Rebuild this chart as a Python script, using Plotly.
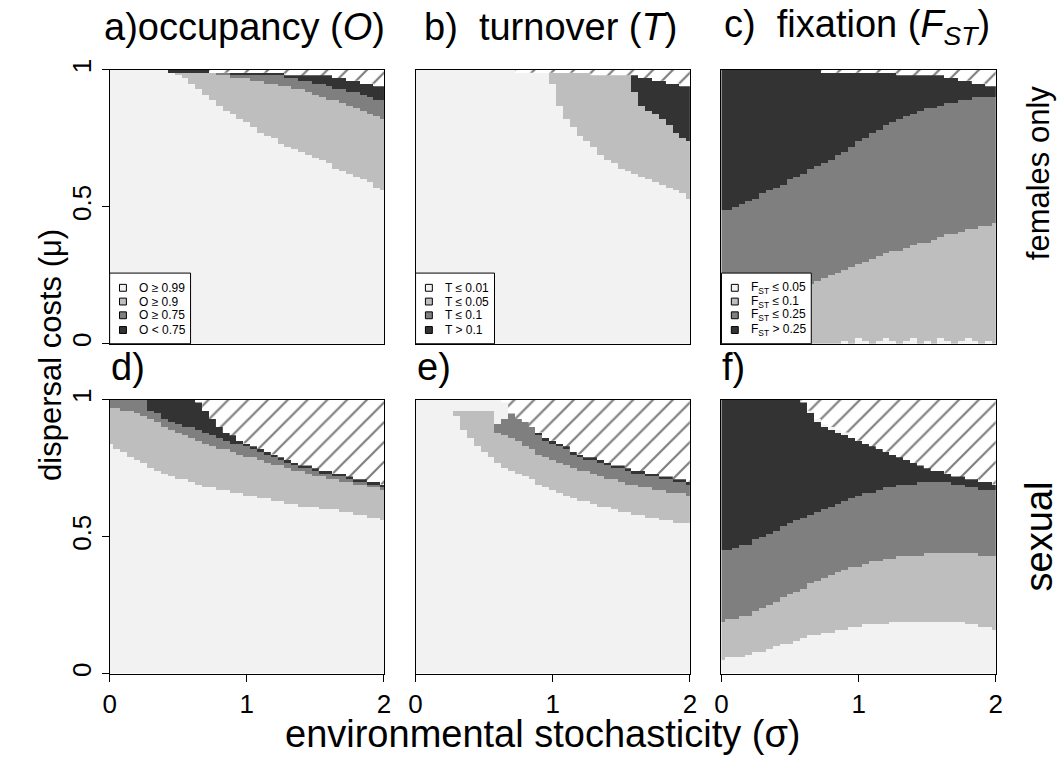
import numpy as np
import plotly.graph_objects as go

# ---------------- data ----------------
SIGMA = [0.0, 0.05, 0.1, 0.15, 0.2, 0.25, 0.3, 0.35, 0.4, 0.45, 0.5, 0.55, 0.6, 0.65, 0.7,
         0.75, 0.8, 0.85, 0.9, 0.95, 1.0, 1.05, 1.1, 1.15, 1.2, 1.25, 1.3, 1.35, 1.4, 1.45,
         1.5, 1.55, 1.6, 1.65, 1.7, 1.75, 1.8, 1.85, 1.9, 1.95, 2.0]

X_TICKS = [0, 1, 2]
X_TICK_LABELS = ["0", "1", "2"]
Y_TICKS = [0, 0.5, 1]
Y_TICK_LABELS = ["0", "0.5", "1"]

CAT_COLORS = ["#f2f2f2", "#bebebe", "#7f7f7f", "#333333"]

# extinction boundary (hatched above), females-only row
EXT_FEM = [1.0, 1.0, 1.0, 1.0, 1.0, 1.0, 1.0, 1.0, 1.0, 1.0, 1.0, 1.0, 1.0, 1.0, 1.0,
           0.99, 0.99, 0.99, 0.99, 0.99, 0.99, 0.99, 0.99, 0.99, 0.99, 0.99,
           0.98, 0.98, 0.98, 0.98, 0.98, 0.98, 0.98,
           0.97, 0.97, 0.965, 0.96, 0.955, 0.95, 0.945, 0.94]

# a) occupancy, females only
A_B1 = [1.0, 1.0, 1.0, 1.0, 1.0, 1.0, 1.0, 1.0, 1.0, 1.0,
        0.98, 0.97, 0.95, 0.93, 0.91, 0.89, 0.875, 0.855, 0.84, 0.825, 0.81, 0.79, 0.775,
        0.76, 0.75, 0.735, 0.725, 0.71, 0.70, 0.69, 0.68, 0.67, 0.657, 0.645, 0.635, 0.625,
        0.615, 0.605, 0.59, 0.575, 0.56]
A_B2 = [1.0, 1.0, 1.0, 1.0, 1.0, 1.0, 1.0, 1.0, 1.0,
        0.99, 0.99, 0.99, 0.99, 0.99, 0.99, 0.99,
        0.98, 0.98, 0.975, 0.97, 0.97, 0.965, 0.96, 0.955, 0.95, 0.945, 0.94, 0.935, 0.93,
        0.92, 0.915, 0.905, 0.895, 0.89, 0.88, 0.875, 0.865, 0.855, 0.845, 0.835, 0.825]
A_B3 = [1.0, 1.0, 1.0, 1.0, 1.0, 1.0, 1.0, 1.0, 1.0,
        0.99, 0.99, 0.99, 0.99, 0.99, 0.99, 0.99, 0.99, 0.99,
        0.98, 0.98, 0.98, 0.98, 0.98, 0.98, 0.98, 0.98,
        0.97, 0.97, 0.965, 0.96, 0.955, 0.95, 0.94, 0.935, 0.93, 0.925, 0.92, 0.91, 0.905,
        0.895, 0.89]

# b) turnover, females only
B_B1 = [1.0, 1.0, 1.0, 1.0, 1.0, 1.0, 1.0, 1.0, 1.0, 1.0, 1.0, 1.0, 1.0, 1.0,
        1.0, 1.0, 1.0, 1.0, 1.0, 1.0,
        0.95, 0.87, 0.82, 0.79, 0.765, 0.745, 0.72, 0.695, 0.675, 0.66, 0.645, 0.63, 0.62,
        0.61, 0.60, 0.59, 0.58, 0.57, 0.56, 0.55, 0.535]
B_B3 = [1.0, 1.0, 1.0, 1.0, 1.0, 1.0, 1.0, 1.0, 1.0, 1.0, 1.0, 1.0, 1.0, 1.0, 1.0, 1.0,
        1.0, 1.0, 1.0, 1.0, 1.0, 1.0, 1.0, 1.0, 1.0, 1.0, 1.0, 1.0, 1.0, 1.0, 1.0, 1.0,
        0.92, 0.87, 0.85, 0.84, 0.82, 0.80, 0.775, 0.755, 0.74]

# c) fixation, females only
C_B1 = [0.0, 0.0, 0.0, 0.0, 0.0, 0.0, 0.0, 0.0, 0.0, 0.0, 0.0, 0.0, 0.0, 0.0, 0.0, 0.0,
        0.0, 0.0,
        0.01, 0.0, 0.02, 0.01, 0.0, 0.01, 0.02, 0.01, 0.0, 0.01, 0.02, 0.0, 0.01, 0.0,
        0.02, 0.01, 0.0, 0.01, 0.02, 0.01, 0.0, 0.01, 0.0]
C_B2 = [0.13, 0.135, 0.14, 0.145, 0.15, 0.157, 0.165, 0.172, 0.18, 0.187, 0.195, 0.202,
        0.21, 0.22, 0.23, 0.24, 0.25, 0.26, 0.27, 0.28, 0.29, 0.30, 0.31, 0.32, 0.33, 0.337,
        0.345, 0.352, 0.36, 0.367, 0.375, 0.382, 0.39, 0.397, 0.405, 0.412, 0.42, 0.425,
        0.43, 0.435, 0.44]
C_B3 = [0.49, 0.495, 0.505, 0.515, 0.525, 0.535, 0.55, 0.56, 0.575, 0.585, 0.60, 0.61,
        0.625, 0.64, 0.65, 0.66, 0.675, 0.69, 0.705, 0.72, 0.74, 0.755, 0.775, 0.785, 0.80,
        0.81, 0.825, 0.835, 0.845, 0.855, 0.86, 0.865, 0.87, 0.88, 0.885, 0.89, 0.895, 0.90,
        0.90, 0.90, 0.90]

# d) occupancy, sexual
D_EXT = [1.0, 1.0, 1.0, 1.0, 1.0, 1.0, 1.0, 1.0, 1.0, 1.0, 1.0, 1.0, 1.0,
         0.99, 0.96, 0.93, 0.905, 0.885, 0.87, 0.855, 0.845, 0.835, 0.82, 0.81, 0.80, 0.79,
         0.78, 0.772, 0.765, 0.757, 0.75, 0.745, 0.74, 0.733, 0.727, 0.72, 0.715, 0.71,
         0.705, 0.70, 0.69]
D_B1 = [0.84, 0.825, 0.81, 0.795, 0.78, 0.767, 0.755, 0.745, 0.735, 0.725, 0.715, 0.707,
        0.70, 0.692, 0.685, 0.68, 0.675, 0.67, 0.665, 0.66, 0.655, 0.65, 0.645, 0.64, 0.635,
        0.63, 0.625, 0.62, 0.615, 0.612, 0.61, 0.605, 0.60, 0.597, 0.595, 0.59, 0.585, 0.58,
        0.575, 0.567, 0.56]
D_B2 = [0.97, 0.968, 0.965, 0.96, 0.95, 0.943, 0.935, 0.92, 0.905, 0.892, 0.88, 0.872,
        0.865, 0.855, 0.845, 0.835, 0.825, 0.817, 0.81, 0.802, 0.795, 0.787, 0.78, 0.772,
        0.765, 0.757, 0.75, 0.745, 0.74, 0.732, 0.725, 0.72, 0.715, 0.71, 0.705, 0.70, 0.695,
        0.69, 0.685, 0.68, 0.675]
D_B3 = [1.0, 1.0, 1.0, 1.0, 1.0, 1.0,
        0.96, 0.95, 0.935, 0.925, 0.915, 0.905, 0.90, 0.895, 0.885, 0.875, 0.865, 0.855,
        0.845, 0.84, 0.835,
        0.825, 0.81, 0.80, 0.79, 0.78, 0.77, 0.762, 0.755, 0.747, 0.74, 0.735, 0.73, 0.723,
        0.717, 0.71, 0.705, 0.70, 0.695, 0.69, 0.68]

# e) turnover, sexual
E_EXT = [1.0, 1.0, 1.0, 1.0, 1.0, 1.0, 1.0, 1.0, 1.0, 1.0, 1.0, 1.0, 1.0,
         0.99, 0.955, 0.935, 0.92, 0.905, 0.885, 0.865, 0.855, 0.845, 0.83, 0.815, 0.805,
         0.795, 0.787, 0.78, 0.772, 0.765, 0.757, 0.75, 0.742, 0.737, 0.732, 0.727, 0.722,
         0.717, 0.712, 0.706, 0.70]
E_TOP = [1.0, 1.0, 1.0, 1.0, 1.0, 1.0,
         0.965, 0.965, 0.965, 0.965, 0.965, 0.965, 0.91, 0.93,
         1.0, 1.0, 1.0, 1.0, 1.0, 1.0, 1.0, 1.0, 1.0, 1.0, 1.0, 1.0, 1.0, 1.0, 1.0, 1.0,
         1.0, 1.0, 1.0, 1.0, 1.0, 1.0, 1.0, 1.0, 1.0, 1.0, 1.0]
E_B1 = [1.0, 1.0, 1.0, 1.0, 1.0, 1.0,
        0.94, 0.89, 0.86, 0.835, 0.815, 0.795, 0.775, 0.755, 0.745, 0.735, 0.72, 0.71, 0.695,
        0.685, 0.675, 0.665, 0.655, 0.645, 0.635, 0.627, 0.62, 0.613, 0.607, 0.60, 0.595,
        0.59, 0.585, 0.58, 0.575, 0.57, 0.565, 0.56, 0.555, 0.552, 0.55]
E_B2 = [1.0, 1.0, 1.0, 1.0, 1.0, 1.0, 1.0, 1.0, 1.0, 1.0, 1.0, 1.0,
        0.885, 0.875,
        0.865, 0.85, 0.835, 0.82, 0.805, 0.79, 0.78, 0.77, 0.765, 0.755, 0.745, 0.737, 0.73,
        0.722, 0.715, 0.707, 0.70, 0.695, 0.69, 0.685, 0.68, 0.675, 0.67, 0.665, 0.66,
        0.657, 0.655]
E_B3 = [1.0, 1.0, 1.0, 1.0, 1.0, 1.0, 1.0, 1.0, 1.0, 1.0, 1.0, 1.0, 1.0, 1.0, 1.0, 1.0,
        1.0, 1.0,
        0.875, 0.855, 0.845, 0.835, 0.82, 0.805, 0.795, 0.785, 0.777, 0.77, 0.762, 0.755,
        0.747, 0.74, 0.732, 0.727, 0.722, 0.717, 0.712, 0.707, 0.702, 0.696, 0.69]

# f) fixation, sexual
F_EXT = [1.0, 1.0, 1.0, 1.0, 1.0, 1.0, 1.0, 1.0, 1.0, 1.0, 1.0, 1.0,
         0.99, 0.965, 0.935, 0.915, 0.90, 0.89, 0.88, 0.865, 0.85, 0.84, 0.83, 0.82, 0.81,
         0.80, 0.79, 0.78, 0.772, 0.762, 0.753, 0.745, 0.737, 0.73, 0.725, 0.72, 0.715,
         0.71, 0.705, 0.70, 0.69]
F_TOP = [1.0, 1.0, 1.0, 1.0, 1.0, 1.0, 1.0, 1.0, 1.0, 1.0, 1.0, 1.0, 1.0,
         0.955, 0.925, 0.905, 0.89, 0.88, 0.87,
         1.0, 1.0, 1.0, 1.0, 1.0, 1.0, 1.0, 1.0, 1.0, 1.0, 1.0, 1.0, 1.0, 1.0, 1.0, 1.0,
         1.0, 1.0, 1.0, 1.0, 1.0, 1.0]
F_B1 = [0.055, 0.057, 0.06, 0.065, 0.07, 0.077, 0.085, 0.092, 0.10, 0.107, 0.115, 0.122,
        0.13, 0.137, 0.145, 0.15, 0.155, 0.16, 0.165, 0.17, 0.175, 0.177, 0.18, 0.182, 0.185,
        0.187, 0.19, 0.19, 0.19, 0.19, 0.19, 0.19, 0.19, 0.19, 0.19, 0.187, 0.185, 0.18,
        0.175, 0.167, 0.16]
F_B2 = [0.195, 0.197, 0.20, 0.207, 0.215, 0.227, 0.24, 0.252, 0.265, 0.277, 0.29, 0.302,
        0.315, 0.327, 0.34, 0.35, 0.36, 0.37, 0.38, 0.387, 0.395, 0.402, 0.41, 0.415, 0.42,
        0.424, 0.428, 0.43, 0.433, 0.435, 0.437, 0.438, 0.44, 0.44, 0.44, 0.44, 0.44, 0.437,
        0.435, 0.432, 0.43]
F_B3 = [0.45, 0.455, 0.46, 0.467, 0.475, 0.487, 0.50, 0.512, 0.525, 0.537, 0.55, 0.56,
        0.57, 0.58, 0.59, 0.60, 0.61, 0.62, 0.63, 0.64, 0.65, 0.657, 0.665, 0.672, 0.68,
        0.685, 0.69, 0.692, 0.695, 0.697, 0.70, 0.70, 0.70, 0.697, 0.695, 0.69, 0.685, 0.68,
        0.675, 0.672, 0.67]

NONE = [1.0] * len(SIGMA)   # "category absent" marker (clamped below)

TITLES = ["a)occupancy (<i>O</i>)", "b)  turnover (<i>T</i>)",
          "c)  fixation (<i>F<sub>ST</sub></i>)"]
ROW_LETTERS = ["d)", "e)", "f)"]
LEGEND_LABELS = [
    ["O \u2265 0.99", "O \u2265 0.9", "O \u2265 0.75", "O < 0.75"],
    ["T \u2264 0.01", "T \u2264 0.05", "T \u2264 0.1", "T > 0.1"],
    ["F<sub>ST</sub> \u2264 0.05", "F<sub>ST</sub> \u2264 0.1",
     "F<sub>ST</sub> \u2264 0.25", "F<sub>ST</sub> > 0.25"],
]

PANELS = [
    dict(b1=A_B1, b2=A_B2, b3=A_B3, top=NONE, ext=EXT_FEM),
    dict(b1=B_B1, b2=NONE, b3=B_B3, top=NONE, ext=EXT_FEM),
    dict(b1=C_B1, b2=C_B2, b3=C_B3, top=NONE, ext=EXT_FEM),
    dict(b1=D_B1, b2=D_B2, b3=D_B3, top=NONE, ext=D_EXT),
    dict(b1=E_B1, b2=E_B2, b3=E_B3, top=E_TOP, ext=E_EXT),
    dict(b1=F_B1, b2=F_B2, b3=F_B3, top=F_TOP, ext=F_EXT),
]

# ---------------- layout geometry (pixels) ----------------
W, H = 1064, 760
COL_L = [104, 414, 724]
PW = 278
ROW_T = [60, 396]
PH = 279
FONT = "Liberation Sans, Arial, Helvetica, sans-serif"
NROW = 100
HALF = 0.025


def fx(p):
    return p / W


def fy(p):
    return 1 - p / H


def row_index(b):
    return np.ceil(np.round(np.asarray(b, float) * NROW - 0.5, 6)).astype(int)


def build(p):
    e = np.asarray(p["ext"], float)
    t = np.minimum(np.asarray(p["top"], float), e)
    c3 = np.minimum(np.asarray(p["b3"], float), t)
    c2 = np.minimum(np.asarray(p["b2"], float), c3)
    c1 = np.minimum(np.asarray(p["b1"], float), c2)
    J1, J2, J3, JT, JE = (row_index(v) for v in (c1, c2, c3, t, e))
    j = np.arange(NROW)[:, None]
    z = np.zeros((NROW, len(e)))
    z[(j >= J1) & (j < J2)] = 1
    z[(j >= J2) & (j < J3)] = 2
    z[(j >= J3) & (j < JT)] = 3
    z[j >= JE] = np.nan
    return z, JE


def hatch_polygon(JE):
    xs, ys = [], []
    for k, s in enumerate(SIGMA):
        if JE[k] < NROW:
            xl, xr = max(s - HALF, 0.0), min(s + HALF, 2.0)
            yv = JE[k] / NROW
            if not xs:
                xs.append(xl)
                ys.append(1.0)
            xs += [xl, xr]
            ys += [yv, yv]
    if xs:
        xs += [2.0, xs[0]]
        ys += [1.0, 1.0]
    return xs, ys


colorscale = [[0, CAT_COLORS[0]], [0.25, CAT_COLORS[0]], [0.25, CAT_COLORS[1]],
              [0.5, CAT_COLORS[1]], [0.5, CAT_COLORS[2]], [0.75, CAT_COLORS[2]],
              [0.75, CAT_COLORS[3]], [1, CAT_COLORS[3]]]

mu_rows = [(r + 0.5) / NROW for r in range(NROW)]

fig = go.Figure()
layout = dict(width=W, height=H, margin=dict(l=0, r=0, t=0, b=0),
              paper_bgcolor="white", plot_bgcolor="white", showlegend=False,
              font=dict(family=FONT, color="black"))
shapes, annos = [], []

for i, p in enumerate(PANELS):
    r, c = divmod(i, 3)
    n = "" if i == 0 else str(i + 1)
    xa, ya = "x" + n, "y" + n
    z, JE = build(p)
    fig.add_trace(go.Heatmap(x=SIGMA, y=mu_rows, z=z, zmin=-0.5, zmax=3.5,
                             colorscale=colorscale, showscale=False, hoverinfo="skip",
                             xaxis=xa, yaxis=ya, xgap=0, ygap=0))
    hx, hy = hatch_polygon(JE)
    if hx:
        fig.add_trace(go.Scatter(x=hx, y=hy, mode="lines", fill="toself",
                                 line=dict(width=0, color="rgba(0,0,0,0)"),
                                 fillcolor="white",
                                 fillpattern=dict(shape="/", size=14, solidity=0.16,
                                                  fgcolor="black", bgcolor="white"),
                                 hoverinfo="skip", xaxis=xa, yaxis=ya))
    x0, x1 = COL_L[c], COL_L[c] + PW
    y0, y1 = ROW_T[r], ROW_T[r] + PH
    show_x = r == 1
    show_y = c == 0
    xaxis = dict(domain=[fx(x0), fx(x1)], range=[0, 2], anchor=ya, showgrid=False,
                 zeroline=False, showline=True, mirror=True, linecolor="black",
                 linewidth=1, tickvals=X_TICKS, ticktext=X_TICK_LABELS,
                 ticks="outside" if show_x else "", ticklen=7, tickwidth=1,
                 tickcolor="black", showticklabels=show_x,
                 tickfont=dict(size=26, family=FONT, color="black"), fixedrange=True)
    yaxis = dict(domain=[fy(y1), fy(y0)], range=[0, 1], anchor=xa, showgrid=False,
                 zeroline=False, showline=True, mirror=True, linecolor="black",
                 linewidth=1, tickvals=Y_TICKS, ticktext=Y_TICK_LABELS,
                 ticks="outside" if show_y else "", ticklen=7, tickwidth=1,
                 tickcolor="black", showticklabels=show_y, tickangle=-90,
                 tickfont=dict(size=26, family=FONT, color="black"), fixedrange=True)
    layout["xaxis" + n] = xaxis
    layout["yaxis" + n] = yaxis

# titles (top row) and row letters (bottom row)
for c in range(3):
    annos.append(dict(text=TITLES[c], x=fx(COL_L[c] + PW / 2 - 2), y=fy(16), xref="paper",
                      yref="paper", xanchor="center", yanchor="middle", showarrow=False,
                      font=dict(size=38, family=FONT, color="black")))
    annos.append(dict(text=ROW_LETTERS[c], x=fx(COL_L[c] - 1), y=fy(363), xref="paper",
                      yref="paper", xanchor="left", yanchor="middle", showarrow=False,
                      font=dict(size=38, family=FONT, color="black")))

# legends in the top-row panels
LEG_ROWS = [282, 296, 310, 325]
LEG_W = [82, 80, 91]
for c in range(3):
    lx0 = COL_L[c]
    shapes.append(dict(type="rect", xref="paper", yref="paper", x0=fx(lx0), x1=fx(lx0 + LEG_W[c]),
                       y0=fy(ROW_T[0] + PH), y1=fy(267), fillcolor="white",
                       line=dict(color="black", width=1), layer="above"))
    for k, lab in enumerate(LEGEND_LABELS[c]):
        cy = LEG_ROWS[k]
        shapes.append(dict(type="rect", xref="paper", yref="paper",
                           x0=fx(lx0 + 10), x1=fx(lx0 + 17), y0=fy(cy + 3.5), y1=fy(cy - 3.5),
                           fillcolor=CAT_COLORS[k], line=dict(color="black", width=1),
                           layer="above"))
        annos.append(dict(text=lab, x=fx(lx0 + 28), y=fy(cy), xref="paper", yref="paper",
                          xanchor="left", yanchor="middle", showarrow=False,
                          font=dict(size=12, family=FONT, color="black")))

# axis titles and row labels
annos.append(dict(text="environmental stochasticity (\u03c3)", x=fx(543), y=fy(737),
                  xref="paper", yref="paper", xanchor="center", yanchor="middle",
                  showarrow=False, font=dict(size=38, family=FONT, color="black")))
annos.append(dict(text="dispersal costs (\u03bc)", x=fx(44), y=fy(350), xref="paper",
                  yref="paper", xanchor="center", yanchor="middle", textangle=-90,
                  showarrow=False, font=dict(size=31, family=FONT, color="black")))
annos.append(dict(text="females only", x=fx(1046), y=fy(165), xref="paper", yref="paper",
                  xanchor="center", yanchor="middle", textangle=-90, showarrow=False,
                  font=dict(size=31, family=FONT, color="black")))
annos.append(dict(text="sexual", x=fx(1046), y=fy(535), xref="paper", yref="paper",
                  xanchor="center", yanchor="middle", textangle=-90, showarrow=False,
                  font=dict(size=38, family=FONT, color="black")))

layout["shapes"] = shapes
layout["annotations"] = annos
fig.update_layout(**layout)
fig.write_html("out.html")
